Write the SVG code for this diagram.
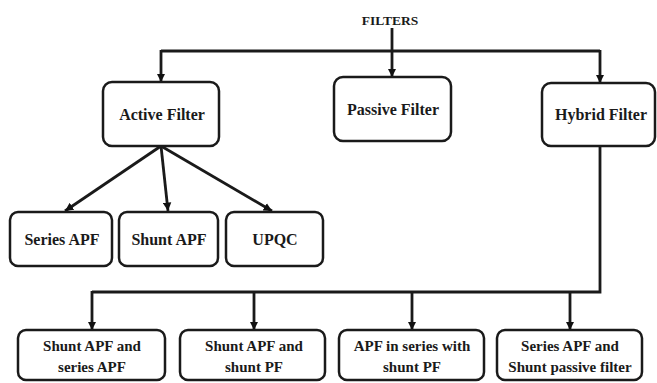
<svg xmlns="http://www.w3.org/2000/svg" width="657" height="383" viewBox="0 0 657 383">
<defs>
<marker id="ah" viewBox="0 0 10 10" refX="10" refY="5" markerWidth="3" markerHeight="3.2" orient="auto" markerUnits="strokeWidth">
<path d="M0,0 L10,5 L0,10 Z" fill="#111"/>
</marker>
<style>
.box{fill:#fff;stroke:#1a1a1a;stroke-width:2.5}
.t{font-family:"Liberation Serif","Times New Roman",serif;font-weight:bold;font-size:16px;fill:#1a1a1a;text-anchor:middle}
.s{font-size:15px}
.c{fill:none;stroke:#1a1a1a;stroke-width:2.8}
.a{marker-end:url(#ah)}
</style>
</defs>
<rect width="657" height="383" fill="#fff"/>
<g id="connectors">
<path class="c" d="M161,51 H600"/>
<path class="c a" d="M161,50 V82"/>
<path class="c a" d="M392,28 V77"/>
<path class="c a" d="M600,50 V83"/>
<path class="c a" d="M161,146 L65,211"/>
<path class="c a" d="M161,146 L168,211"/>
<path class="c a" d="M161,146 L272,211"/>
<path class="c" d="M600,146 V292 H92"/>
<path class="c a" d="M92,291 V330"/>
<path class="c a" d="M254,292 V330"/>
<path class="c a" d="M412,292 V330"/>
<path class="c a" d="M570,292 V330"/>
</g>
<g id="filters"><text class="t" x="390" y="25" style="font-size:13.5px">FILTERS</text></g>
<g id="active"><rect class="box" x="103" y="82" width="116" height="64" rx="9"/><text class="t" x="162" y="120">Active Filter</text></g>
<g id="passive"><rect class="box" x="334" y="77" width="117" height="64" rx="9"/><text class="t" x="393" y="115">Passive Filter</text></g>
<g id="hybrid"><rect class="box" x="542" y="83" width="113" height="63" rx="9"/><text class="t" x="601" y="120">Hybrid Filter</text></g>
<g id="series-apf"><rect class="box" x="10" y="212" width="102" height="54" rx="8"/><text class="t" x="62" y="245">Series APF</text></g>
<g id="shunt-apf"><rect class="box" x="119" y="212" width="99" height="54" rx="8"/><text class="t" x="169" y="245">Shunt APF</text></g>
<g id="upqc"><rect class="box" x="226" y="212" width="97" height="54" rx="8"/><text class="t" x="275" y="245">UPQC</text></g>
<g id="h1"><rect class="box" x="18" y="330" width="147" height="50" rx="8"/><text class="t s" x="92" y="351">Shunt APF and</text><text class="t s" x="92" y="372">series APF</text></g>
<g id="h2"><rect class="box" x="180" y="330" width="145" height="50" rx="8"/><text class="t s" x="254" y="351">Shunt APF and</text><text class="t s" x="254" y="372">shunt PF</text></g>
<g id="h3"><rect class="box" x="339" y="330" width="145" height="50" rx="8"/><text class="t s" x="412" y="351">APF in series with</text><text class="t s" x="412" y="372">shunt PF</text></g>
<g id="h4"><rect class="box" x="497" y="330" width="145" height="50" rx="8"/><text class="t s" x="570" y="351">Series APF and</text><text class="t s" x="570" y="372">Shunt passive filter</text></g>
</svg>
